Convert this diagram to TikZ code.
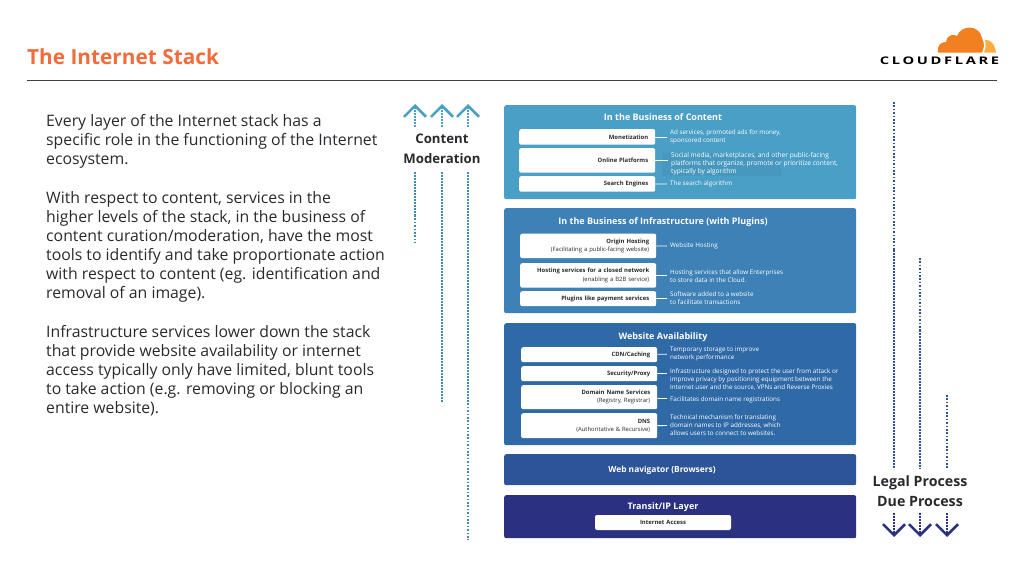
\documentclass[tikz,border=0pt]{standalone}
\usepackage{fontspec}
\setmainfont{Open Sans}
\usetikzlibrary{arrows.meta}

\definecolor{flareorange}{HTML}{F26B3A}
\definecolor{inktext}{HTML}{2A2A2E}
\definecolor{contentblue}{HTML}{4A9FC6}
\definecolor{contentshade}{HTML}{4797BF}
\definecolor{plugblue}{HTML}{3D81B6}
\definecolor{availblue}{HTML}{2F6AA7}
\definecolor{navblue}{HTML}{2C5497}
\definecolor{transitblue}{HTML}{2B3080}
\definecolor{cloudorange}{HTML}{F38020}
\definecolor{cloudlight}{HTML}{FBAD41}

\tikzset{
	panel/.style={draw=none,rounded corners=2pt,inner sep=0pt,anchor=north west},
	panelhead/.style={text=white,font=\fontsize{9}{10}\selectfont\bfseries,inner sep=0pt},
	stepbox/.style={fill=white,rounded corners=2pt,inner sep=0pt,anchor=north west,minimum width=136pt,
		text width=122pt,align=right,text=inktext,font=\fontsize{5.9}{8.4}\selectfont},
	desc/.style={text=white,anchor=west,align=left,inner sep=0pt,font=\fontsize{6.3}{8.1}\selectfont},
	link/.style={draw=white,line width=0.8pt,shorten >=3pt},
	body/.style={anchor=north west,align=left,inner sep=0pt,text=inktext,font=\fontsize{15.8}{19}\selectfont},
	side/.style={text=inktext,inner sep=0pt,font=\fontsize{13.2}{20}\selectfont\bfseries,align=center},
	upline/.style={draw=contentblue!88!black,line width=2.2pt,dash pattern=on 2.4pt off 0.6pt},
	upsparse/.style={upline,line width=1.6pt,dash pattern=on 1.6pt off 1.8pt},
	downline/.style={draw=navblue,line width=2.2pt,dash pattern=on 2.4pt off 0.6pt},
	downsparse/.style={downline,line width=1.6pt,dash pattern=on 1.6pt off 1.8pt},
	uparrow/.style={draw=contentblue,line width=2pt,dash pattern=on 2.4pt off 0.6pt,-{Straight Barb[length=11pt,width=22pt,line width=2.6pt]}},
	downarrow/.style={draw=transitblue,line width=2pt,dash pattern=on 2.4pt off 0.6pt,-{Straight Barb[length=11pt,width=22pt,line width=2.6pt]}}
}

\begin{document}
\begin{tikzpicture}[x=1pt,y=-1pt]
	\useasboundingbox (0,0) rectangle (1024,576);

	% header
	\node[anchor=west,inner sep=0pt,text=flareorange,font=\fontsize{20.8}{24}\selectfont\bfseries] (title) at (27,57) {The Internet Stack};
	\coordinate (ruleL) at (27,80);
	\coordinate (ruleR) at (997,80);
	\draw[draw=black!75,line width=0.8pt] (ruleL) -- (ruleR);

	% logo
	\fill[cloudorange] (938,52.5) .. controls (937,45) and (941,42) .. (946,42) .. controls (946,36) and (953,33) .. (957,36)
		.. controls (961,25) and (979,24) .. (982,38) .. controls (985,44) and (984,48) .. (982,52.5) -- cycle;
	\fill[cloudlight] (985,40) .. controls (990,39) and (995,44) .. (996,52.5) -- (984,52.5) .. controls (986,48) and (986,44) .. (985,40) -- cycle;
	\node[inner sep=0pt,font=\fontsize{10.5}{11}\selectfont\bfseries,text=black] (logo) at (939.5,61) {\addfontfeatures{FakeStretch=1.4,LetterSpace=25}CLOUDFLARE};

	% left text
	\node[body] (para1) at (46,114) {Every layer of the Internet stack has a\\specific role in the functioning of the Internet\\ecosystem.};
	\node[body] (para2) at (46,191) {With respect to content, services in the\\higher levels of the stack, in the business of\\content curation/moderation, have the most\\tools to identify and take proportionate action\\with respect to content (eg. identification and\\removal of an image).};
	\node[body] (para3) at (46,325) {Infrastructure services lower down the stack\\that provide website availability or internet\\access typically only have limited, blunt tools\\to take action (e.g. removing or blocking an\\entire website).};

	% content moderation
	\node[side] (moderation) at (442,148.5) {Content\\Moderation};
	\coordinate (upA) at (415,127);
	\coordinate (upB) at (442,127);
	\coordinate (upC) at (468,127);
	\coordinate (upAtop) at (415,104);
	\coordinate (upBtop) at (442,104);
	\coordinate (upCtop) at (468,104);
	\draw[uparrow] (upA) -- (upAtop);
	\draw[uparrow] (upB) -- (upBtop);
	\draw[uparrow] (upC) -- (upCtop);
	\coordinate (modA) at (415,172);
	\coordinate (modAmid) at (415,215);
	\coordinate (modAend) at (415,243);
	\coordinate (modB) at (442,172);
	\coordinate (modBend) at (442,403);
	\coordinate (modC) at (468,172);
	\coordinate (modCmid) at (468,400);
	\coordinate (modCend) at (468,540);
	\draw[upline] (modA) -- (modAmid);
	\draw[upsparse] (modAmid) -- (modAend);
	\draw[upline] (modB) -- (modBend);
	\draw[upline] (modC) -- (modCmid);
	\draw[upsparse] (modCmid) -- (modCend);

	% in the business of content
	\node[panel,fill=contentblue,minimum width=352pt,minimum height=94pt] (content) at (504,105) {};
	\fill[contentshade] (662,153) rectangle (781,176);
	\node[panelhead] (contenthead) at (663,117) {In the Business of Content};
	\node[stepbox,minimum height=15.5pt] (monet) at (519,129) {\bfseries Monetization};
	\node[stepbox,minimum height=24.5pt] (online) at (519,148) {\bfseries Online Platforms};
	\node[stepbox,minimum height=15.5pt] (search) at (519,176) {\bfseries Search Engines};
	\node[desc] (monetdesc) at (670,136.5) {Ad services, promoted ads for money,\\sponsored content};
	\node[desc,font=\fontsize{6.6}{8.1}\selectfont] (onlinedesc) at (671,164) {Social media, marketplaces, and other public-facing\\platforms that organize, promote or prioritize content,\\typically by algorithm};
	\node[desc] (searchdesc) at (670,184) {The search algorithm};
	\path[link] (monet) edge (monetdesc.west |- monet);
	\path[link] (online) edge (onlinedesc.west |- online);
	\path[link] (search) edge (searchdesc);

	% in the business of infrastructure
	\node[panel,fill=plugblue,minimum width=352pt,minimum height=105pt] (infra) at (504,208) {};
	\node[panelhead] (infrahead) at (663,222) {In the Business of Infrastructure (with Plugins)};
	\node[stepbox,minimum height=24.5pt] (origin) at (520,233.5) {{\bfseries Origin Hosting}\\(Facilitating a public-facing website)};
	\node[stepbox,minimum height=24.5pt] (closed) at (520,263) {{\bfseries Hosting services for a closed network}\\(enabling a B2B service)};
	\node[stepbox,minimum height=15pt] (plugins) at (520,291) {\bfseries Plugins like payment services};
	\node[desc] (origindesc) at (670,246) {Website Hosting};
	\node[desc] (closeddesc) at (670,276) {Hosting services that allow Enterprises\\to store data in the Cloud.};
	\node[desc] (pluginsdesc) at (670,298.5) {Software added to a website\\to facilitate transactions};
	\path[link] (origin) edge (origindesc);
	\path[link] (closed) edge (closeddesc.west |- closed);
	\path[link] (plugins) edge (pluginsdesc);

	% website availability
	\node[panel,fill=availblue,minimum width=352pt,minimum height=122pt] (avail) at (504,323) {};
	\node[panelhead] (availhead) at (663,337) {Website Availability};
	\node[stepbox,minimum height=15pt] (cdn) at (521,347) {\bfseries CDN/Caching};
	\node[stepbox,minimum height=15pt] (proxy) at (521,366) {\bfseries Security/Proxy};
	\node[stepbox,minimum height=24pt] (names) at (521,385) {{\bfseries Domain Name Services}\\(Registry, Registrar)};
	\node[stepbox,minimum height=25pt] (dns) at (521,413) {{\bfseries DNS}\\(Authoritative \& Recursive)};
	\node[desc] (cdndesc) at (670,354) {Temporary storage to improve\\network performance};
	\node[desc] (proxydesc) at (670,379.5) {Infrastructure designed to protect the user from attack or\\improve privacy by positioning equipment between the\\Internet user and the source, VPNs and Reverse Proxies};
	\node[desc] (namesdesc) at (670,399.5) {Facilitates domain name registrations};
	\node[desc] (dnsdesc) at (670,425.5) {Technical mechanism for translating\\domain names to IP addresses, which\\allows users to connect to websites.};
	\path[link] (cdn) edge (cdndesc);
	\path[link] (proxy) edge (proxydesc.west |- proxy);
	\path[link] (names) edge (namesdesc);
	\path[link] (dns) edge (dnsdesc);

	% browsers and transit
	\node[panel,fill=navblue,minimum width=352pt,minimum height=31pt] (browsers) at (504,454) {};
	\node[panelhead,font=\fontsize{8.4}{10}\selectfont\bfseries] (browsershead) at (662,470) {Web navigator (Browsers)};
	\node[panel,fill=transitblue,minimum width=352pt,minimum height=43pt] (transit) at (504,495) {};
	\node[panelhead] (transithead) at (663,507) {Transit/IP Layer};
	\node[stepbox,anchor=center,minimum width=136pt,minimum height=15pt,text width=136pt,align=center] (access) at (663,522.5) {\bfseries Internet Access};

	% legal process
	\node[side,font=\fontsize{14.2}{20}\selectfont\bfseries] (legal) at (920,491) {Legal Process\\Due Process};
	\coordinate (procA) at (894,102);
	\coordinate (procAmid) at (894,250);
	\coordinate (procAend) at (894,469);
	\coordinate (procB) at (920,258);
	\coordinate (procBmid) at (920,330);
	\coordinate (procBend) at (920,469);
	\coordinate (procC) at (947,395);
	\coordinate (procCend) at (947,469);
	\draw[downsparse] (procA) -- (procAmid);
	\draw[downline] (procAmid) -- (procAend);
	\draw[downsparse] (procB) -- (procBmid);
	\draw[downline] (procBmid) -- (procBend);
	\draw[downsparse] (procC) -- (procCend);
	\coordinate (downA) at (894,513);
	\coordinate (downB) at (920,513);
	\coordinate (downC) at (947,513);
	\coordinate (downAend) at (894,537);
	\coordinate (downBend) at (920,537);
	\coordinate (downCend) at (947,537);
	\draw[downarrow] (downA) -- (downAend);
	\draw[downarrow] (downB) -- (downBend);
	\draw[downarrow] (downC) -- (downCend);
\end{tikzpicture}
\end{document}
